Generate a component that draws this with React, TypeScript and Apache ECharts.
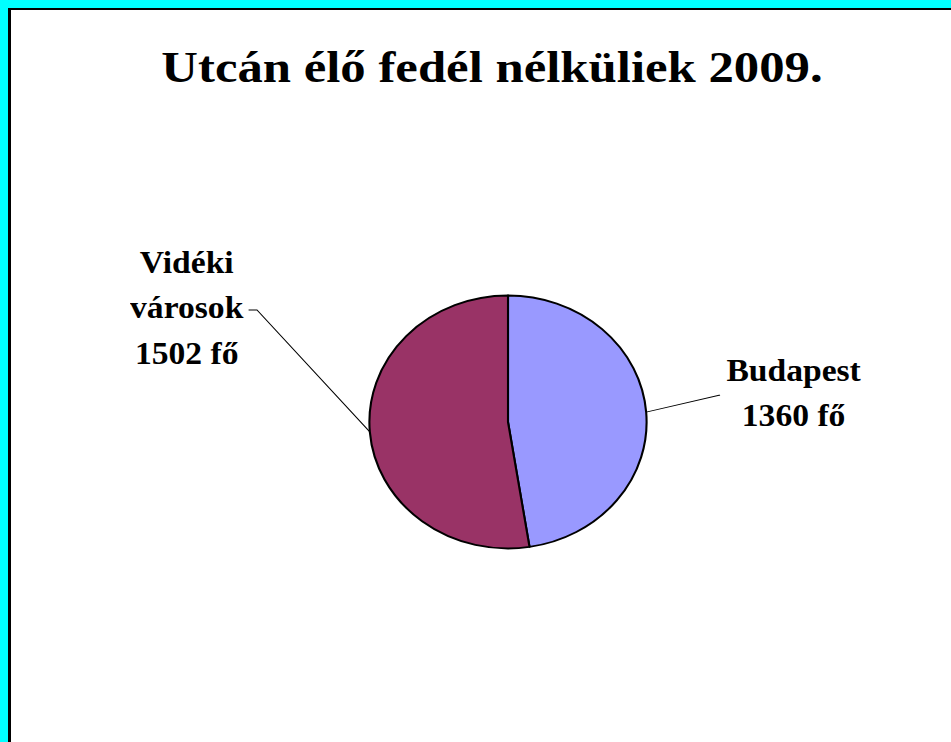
import React, { useEffect, useRef } from "react";
import * as echarts from "echarts";

const TITLE = "Utcán élő fedél nélküliek 2009.";
const categories = ["Budapest", "Vidéki\nvárosok"];
const values = [1360, 1502];
const unit = "fő";
const colors = ["#9999FF", "#993366"];

const FONT = "'Liberation Serif', 'Times New Roman', serif";

// pie centre and the ellipse squash used to mimic the oval pie of the original
const CX = 508;
const CY = 422;
const SX = 1.05;
const SY = 0.958;

export default function App() {
  const bgRef = useRef<HTMLDivElement>(null);
  const pieRef = useRef<HTMLDivElement>(null);
  useEffect(() => {
    document.documentElement.style.overflow = "hidden";
    document.body.style.margin = "0";
    document.body.style.overflow = "hidden";
    const bg = echarts.init(bgRef.current!, null, { renderer: "svg" });
    bg.setOption({
      animation: false,
      graphic: [
        {
          type: "rect",
          z: -10,
          shape: { x: 0, y: 0, width: 951, height: 9 },
          style: { fill: "#00FFFF" },
        },
        {
          type: "rect",
          z: -10,
          shape: { x: 0, y: 0, width: 9, height: 742 },
          style: { fill: "#00FFFF" },
        },
        {
          type: "rect",
          z: -9,
          shape: { x: 9, y: 8, width: 942, height: 2 },
          style: { fill: "#000000" },
        },
        {
          type: "rect",
          z: -9,
          shape: { x: 8, y: 8, width: 3, height: 734 },
          style: { fill: "#000000" },
        },
        {
          type: "text",
          x: 492,
          y: 67,
          scaleX: 1.154,
          style: {
            text: TITLE,
            align: "center",
            verticalAlign: "middle",
            font: `bold 44px ${FONT}`,
            fill: "#000000",
          },
        },
      ],
    });

    const pie = echarts.init(pieRef.current!, null, { renderer: "svg" });
    // label centres, in the pie's own (unsquashed) coordinates
    const labelPos = [
      { x: 780, y: 392 },
      { x: 202, y: 303 },
    ];
    pie.setOption({
      animation: false,
      series: [
        {
          type: "pie",
          center: [CX, CY],
          radius: 132,
          startAngle: 90,
          clockwise: true,
          data: categories.map((c, i) => ({
            name: c,
            value: values[i],
            itemStyle: { color: colors[i] },
          })),
          itemStyle: { borderColor: "#000000", borderWidth: 2 },
          label: {
            show: true,
            position: "outside",
            formatter: (p: any) => `${p.name}\n${p.value} ${unit}`,
            fontFamily: FONT,
            fontWeight: "bold",
            fontSize: 32,
            lineHeight: 47,
            color: "#000000",
            align: "center",
          },
          labelLine: {
            show: true,
            length: 30,
            length2: 10,
            lineStyle: { color: "#000000", width: 1 },
          },
          labelLayout: (params: any) => {
            const i = params.dataIndex;
            const pos = labelPos[i];
            const w = params.labelRect.width;
            const pts = params.labelLinePoints;
            const p0 = pts ? pts[0] : [pos.x, pos.y];
            let p1, p2;
            if (pos.x > CX) {
              const ex = pos.x - w / 2 - 6;
              p2 = [ex, pos.y + 2];
              p1 = [ex - 1, pos.y + 2];
            } else {
              const ex = pos.x + w / 2 + 5;
              p2 = [ex, pos.y + 2];
              p1 = [ex + 8, pos.y + 2];
            }
            return {
              x: pos.x,
              y: pos.y,
              align: "center",
              verticalAlign: "middle",
              labelLinePoints: [p0, p1, p2],
            };
          },
        },
      ],
    });
    return () => {
      bg.dispose();
      pie.dispose();
    };
  }, []);
  return (
    <div
      style={{
        position: "fixed",
        left: 0,
        top: 0,
        width: 951,
        height: 742,
        overflow: "hidden",
        background: "#FFFFFF",
      }}
    >
      <div
        ref={bgRef}
        style={{ position: "absolute", left: 0, top: 0, width: 951, height: 742 }}
      />
      <div
        ref={pieRef}
        style={{
          position: "absolute",
          left: 0,
          top: 0,
          width: 951,
          height: 742,
          transform: `scale(${SX}, ${SY})`,
          transformOrigin: `${CX}px ${CY}px`,
        }}
      />
    </div>
  );
}
